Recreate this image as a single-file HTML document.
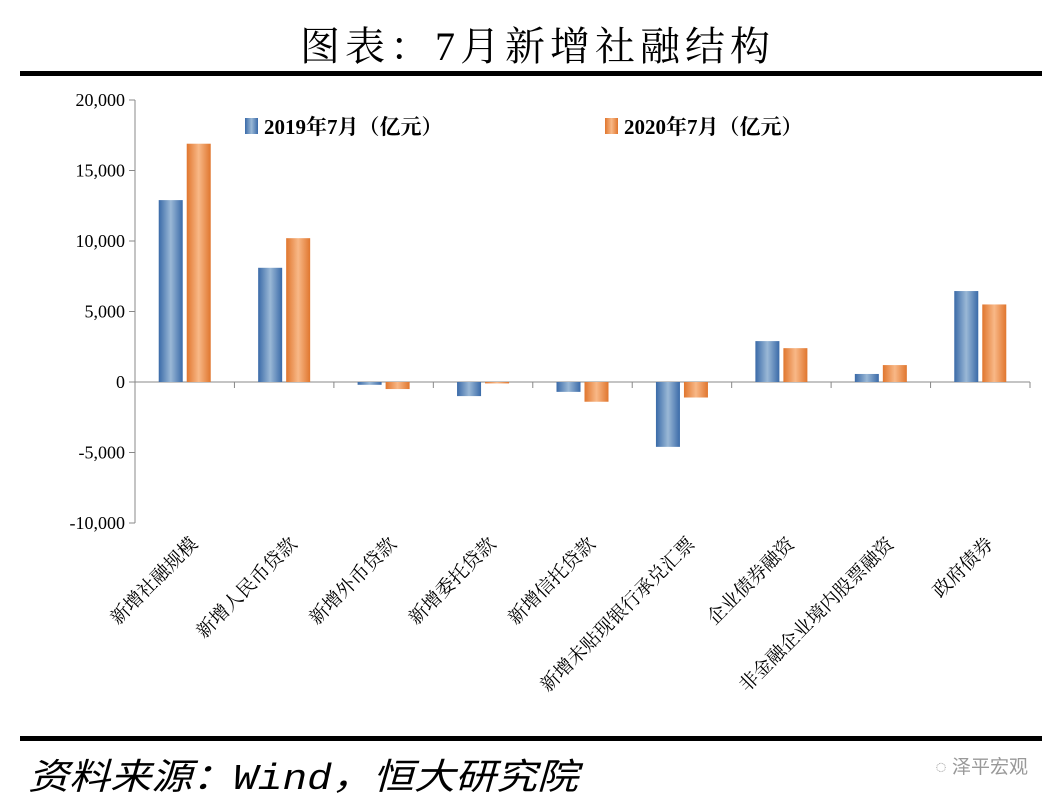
<!DOCTYPE html>
<html><head><meta charset="utf-8"><style>
body{margin:0;background:#fff;width:1062px;height:811px;overflow:hidden;}
svg{display:block}
</style></head><body>
<svg id="c" width="1062" height="811" xmlns="http://www.w3.org/2000/svg">
<defs>
<linearGradient id="gb" x1="0" x2="1" y1="0" y2="0"><stop offset="0" stop-color="#3a6aa8"/><stop offset="0.5" stop-color="#9ab8d6"/><stop offset="1" stop-color="#3a6aa8"/></linearGradient>
<linearGradient id="go" x1="0" x2="1" y1="0" y2="0"><stop offset="0" stop-color="#e0762e"/><stop offset="0.5" stop-color="#f8b887"/><stop offset="1" stop-color="#e0762e"/></linearGradient>
</defs>
<text x="300" y="60" textLength="470" lengthAdjust="spacing" font-family="'Liberation Serif','Noto Serif CJK SC',serif" font-size="40">图表：7月新增社融结构</text>
<rect x="20" y="71" width="1022" height="5" fill="#000"/>
<rect x="20" y="736" width="1022" height="5" fill="#000"/>
<text x="28" y="789" textLength="550" lengthAdjust="spacingAndGlyphs" font-family="'Liberation Mono','Noto Sans CJK SC',monospace" font-style="italic" font-size="36">资料来源：Wind，恒大研究院</text>
<text x="1028" y="773" text-anchor="end" font-family="'Liberation Sans','Noto Sans CJK SC',sans-serif" font-size="19" fill="#999">◌ 泽平宏观</text>
<g id="axes"></g><g id="bars"></g>
<rect x="245" y="118" width="13" height="16" fill="url(#gb)"/>
<text x="264" y="134" font-family="'Liberation Serif','Noto Serif CJK SC',serif" font-weight="bold" font-size="21">2019年7月（亿元）</text>
<rect x="605" y="118" width="13" height="16" fill="url(#go)"/>
<text x="624" y="134" font-family="'Liberation Serif','Noto Serif CJK SC',serif" font-weight="bold" font-size="21">2020年7月（亿元）</text>
</svg>
<script>
const categories=["新增社融规模","新增人民币贷款","新增外币贷款","新增委托贷款","新增信托贷款","新增未贴现银行承兑汇票","企业债券融资","非金融企业境内股票融资","政府债券"];
const series2019=[12900,8100,-200,-1000,-700,-4600,2900,570,6450];
const series2020=[16900,10200,-500,-100,-1400,-1100,2400,1200,5500];
const yTicks=[20000,15000,10000,5000,0,-5000,-10000];
const yTickLabels=["20,000","15,000","10,000","5,000","0","-5,000","-10,000"];
const NS="http://www.w3.org/2000/svg";
const x0=135,x1=1030,yTop=100,yBot=523,vMax=20000,vMin=-10000;
const y=v=>yTop+(vMax-v)/(vMax-vMin)*(yBot-yTop);
const bw=(x1-x0)/categories.length;
const ax=document.getElementById('axes'),bg=document.getElementById('bars');
function mk(t,a,p){const e=document.createElementNS(NS,t);for(const k in a)e.setAttribute(k,a[k]);p.appendChild(e);return e;}
let l=mk('line',{x1:x0,x2:x0,y1:yTop,y2:yBot,stroke:'#888','stroke-width':1},ax);


yTicks.forEach((v,i)=>{
 const t=mk('line',{x1:x0-6,x2:x0,y1:y(v),y2:y(v),stroke:'#888'},ax);
 
 
 const tx=mk('text',{x:x0-10,y:y(v)+6,'text-anchor':'end','font-family':"'Liberation Serif',serif",'font-size':18},ax);
 tx.textContent=yTickLabels[i];
 
 
});
l=mk('line',{x1:x0,x2:x1,y1:y(0),y2:y(0),stroke:'#888'},ax);


categories.forEach((c,i)=>{
 const cx=x0+bw*(i+0.5);
 const tk=mk('line',{x1:x0+bw*(i+1),x2:x0+bw*(i+1),y1:y(0),y2:y(0)+6,stroke:'#888'},ax);
 
 
 [[series2019[i],'url(#gb)',-26,'bar-2019'],[series2020[i],'url(#go)',2,'bar-2020']].forEach(s=>{
  const v=s[0],top=Math.min(y(v),y(0)),h=Math.abs(y(v)-y(0));
  const r=mk('rect',{x:cx+s[2],y:top,width:24,height:h,fill:s[1]},bg);
  
  
 });
 const lx=cx+14,ly=545;
 const t=mk('text',{x:lx,y:ly,'text-anchor':'end',transform:`rotate(-45 ${lx} ${ly})`,'font-family':"'Liberation Serif','Noto Serif CJK SC',serif",'font-size':19},ax);
 t.textContent=c;
 
 
});
</script>
</body></html>
